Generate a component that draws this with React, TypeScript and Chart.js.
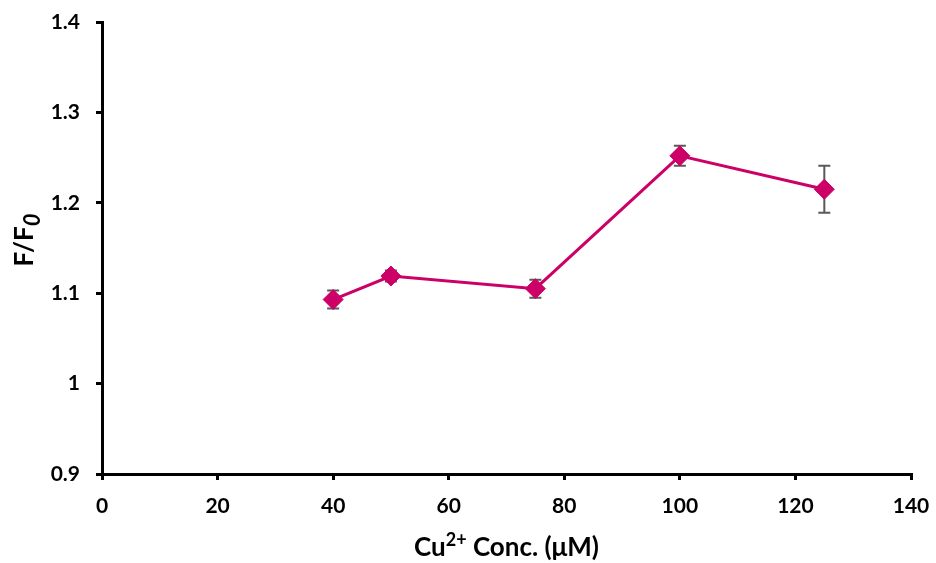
import React, { useEffect, useRef } from "react";
import { Chart, registerables } from "chart.js";

Chart.register(...registerables);

const concentrations = [40, 50, 75, 100, 125];
const ratioValues = [1.093, 1.119, 1.105, 1.252, 1.215];
const errorValues = [0.01, 0.006, 0.01, 0.011, 0.026];
const yTicks = [0.9, 1.0, 1.1, 1.2, 1.3, 1.4];
const xTicks = [0, 20, 40, 60, 80, 100, 120, 140];
const xTitleRuns = [
  { text: "Cu", mode: "normal" },
  { text: "2+", mode: "sup" },
  { text: " Conc. (μM)", mode: "normal" },
];
const yTitleRuns = [
  { text: "F/F", mode: "normal" },
  { text: "0", mode: "sub" },
];

const FONT = "Lato, 'Open Sans', sans-serif";
const TITLE_SIZE = 26;

function runFont(mode: string) {
  if (mode === "sup") return `bold ${Math.round(TITLE_SIZE * 0.7)}px ${FONT}`;
  if (mode === "sub") return `italic bold ${Math.round(TITLE_SIZE * 0.85)}px ${FONT}`;
  return `bold ${TITLE_SIZE}px ${FONT}`;
}

function drawRuns(ctx: CanvasRenderingContext2D, runs: any[], cx: number, cy: number) {
  let total = 0;
  runs.forEach((r) => {
    ctx.font = runFont(r.mode);
    total += ctx.measureText(r.text).width;
  });
  let x = cx - total / 2;
  ctx.textBaseline = "middle";
  ctx.textAlign = "left";
  runs.forEach((r) => {
    ctx.font = runFont(r.mode);
    let dy = 0;
    if (r.mode === "sup") dy = -TITLE_SIZE * 0.3;
    if (r.mode === "sub") dy = TITLE_SIZE * 0.3;
    ctx.fillText(r.text, x, cy + dy);
    x += ctx.measureText(r.text).width;
  });
}

const titlePlugin = {
  id: "richTitles",
  afterDraw(chart: any) {
    const ctx = chart.ctx;
    const area = chart.chartArea;
    ctx.save();
    ctx.fillStyle = "#000";
    drawRuns(ctx, xTitleRuns, (area.left + area.right) / 2, 548);
    ctx.save();
    ctx.translate(25, (area.top + area.bottom) / 2 - 8);
    ctx.rotate(-Math.PI / 2);
    drawRuns(ctx, yTitleRuns, 0, 0);
    ctx.restore();
    ctx.restore();
  },
};

const errorBarPlugin = {
  id: "errorBars",
  beforeDatasetsDraw(chart: any) {
    const ctx = chart.ctx;
    const xs = chart.scales.x;
    const ys = chart.scales.y;
    ctx.save();
    ctx.strokeStyle = "#595959";
    ctx.lineWidth = 2;
    concentrations.forEach((c, i) => {
      const x = xs.getPixelForValue(c);
      const yTop = ys.getPixelForValue(ratioValues[i] + errorValues[i]);
      const yBot = ys.getPixelForValue(ratioValues[i] - errorValues[i]);
      const cap = 6;
      ctx.beginPath();
      ctx.moveTo(x, yTop);
      ctx.lineTo(x, yBot);
      ctx.moveTo(x - cap, yTop);
      ctx.lineTo(x + cap, yTop);
      ctx.moveTo(x - cap, yBot);
      ctx.lineTo(x + cap, yBot);
      ctx.stroke();
    });
    ctx.restore();
  },
};

export default function App() {
  const ref = useRef<HTMLCanvasElement>(null);
  useEffect(() => {
    document.body.style.margin = "0";
    const chart = new Chart(ref.current!, {
      type: "line",
      data: {
        datasets: [
          {
            data: concentrations.map((c, i) => ({ x: c, y: ratioValues[i] })),
            borderColor: "#CC0066",
            backgroundColor: "#CC0066",
            borderWidth: 3,
            pointStyle: "rectRot",
            pointRadius: 10,
            pointBorderWidth: 1,
            pointBackgroundColor: "#CC0066",
            pointBorderColor: "#CC0066",
            tension: 0,
          },
        ],
      },
      options: {
        animation: false,
        responsive: false,
        layout: { padding: { top: 22, right: 25, left: 0, bottom: 0 } },
        plugins: { legend: { display: false }, tooltip: { enabled: false } },
        scales: {
          x: {
            type: "linear",
            min: 0,
            max: 140,
            afterBuildTicks: (s: any) => {
              s.ticks = xTicks.map((v) => ({ value: v }));
            },
            afterFit: (s: any) => {
              s.height = 89;
              s.paddingLeft = 0;
              s.paddingRight = 0;
            },
            border: { display: true, color: "#000", width: 3 },
            grid: { drawOnChartArea: false, drawTicks: true, tickLength: 6, color: "#000", lineWidth: 3 },
            ticks: { color: "#000", font: { family: FONT, size: 21, weight: "bold" }, padding: 14, maxRotation: 0 },
            title: { display: false, text: "Cu²⁺ Conc. (μM)" },
          },
          y: {
            type: "linear",
            min: 0.9,
            max: 1.4,
            afterBuildTicks: (s: any) => {
              s.ticks = yTicks.map((v) => ({ value: v }));
            },
            afterFit: (s: any) => {
              s.width = 102;
              s.paddingTop = 0;
              s.paddingBottom = 0;
            },
            border: { display: true, color: "#000", width: 3 },
            grid: { drawOnChartArea: false, drawTicks: true, tickLength: 6, color: "#000", lineWidth: 3 },
            ticks: {
              color: "#000",
              font: { family: FONT, size: 21, weight: "bold" },
              padding: 16,
              callback: (v: any) => String(Number(Number(v).toFixed(1))),
            },
            title: { display: false, text: "F/F₀" },
          },
        },
      },
      plugins: [errorBarPlugin, titlePlugin],
    });
    return () => chart.destroy();
  }, []);
  return (
    <div style={{ width: 936, height: 563, background: "#fff" }}>
      <canvas ref={ref} width={936} height={563} />
    </div>
  );
}
